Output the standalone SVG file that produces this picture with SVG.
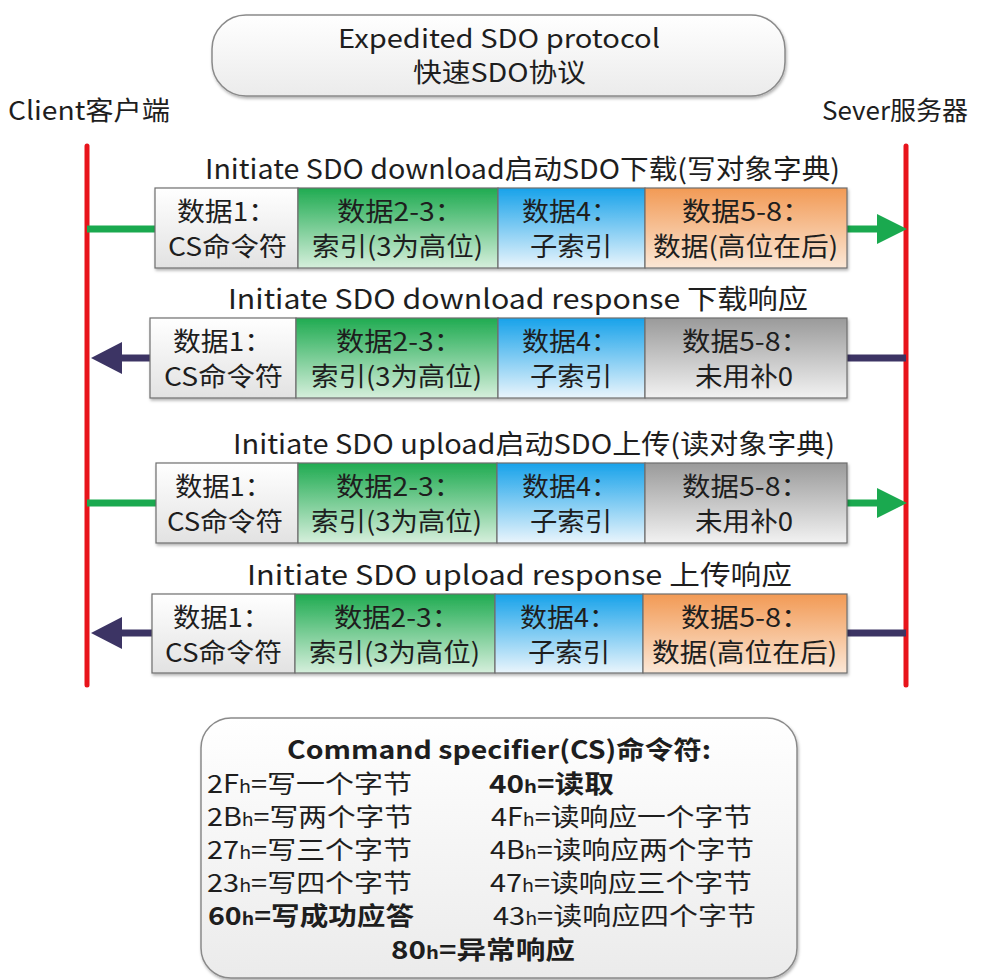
<svg xmlns="http://www.w3.org/2000/svg" width="982" height="980" viewBox="0 0 982 980">
<defs>
<style>
text{font-family:"Noto Sans CJK SC","Noto Sans",sans-serif;fill:#1e1e1e}
.t{font-size:26px}
.r{font-size:27px}
.c{font-size:26px}
.l{font-size:25px}
.b{font-weight:bold}
.h{font-size:17px}
.cell{stroke:#6e6e6e;stroke-width:1.2}
.life{stroke:#e8141b;stroke-width:5;stroke-linecap:round}
.g{stroke:#1aa94f;stroke-width:7;fill:none}
.p{stroke:#3c3464;stroke-width:7;fill:none}
</style>
<linearGradient id="gW" x1="0" y1="0" x2="0" y2="1"><stop offset="0" stop-color="#ffffff"/><stop offset="1" stop-color="#e2e2e2"/></linearGradient>
<linearGradient id="gG" x1="0" y1="0" x2="0" y2="1"><stop offset="0" stop-color="#1fab51"/><stop offset="1" stop-color="#d6efdc"/></linearGradient>
<linearGradient id="gB" x1="0" y1="0" x2="0" y2="1"><stop offset="0" stop-color="#17a2ea"/><stop offset="1" stop-color="#eaf5fc"/></linearGradient>
<linearGradient id="gO" x1="0" y1="0" x2="0" y2="1"><stop offset="0" stop-color="#f29a55"/><stop offset="1" stop-color="#fbe7d6"/></linearGradient>
<linearGradient id="gY" x1="0" y1="0" x2="0" y2="1"><stop offset="0" stop-color="#9a9a9a"/><stop offset="1" stop-color="#f2f2f2"/></linearGradient>
<linearGradient id="gT" x1="0" y1="0" x2="0" y2="1"><stop offset="0" stop-color="#ffffff"/><stop offset="1" stop-color="#ebebeb"/></linearGradient>
<filter id="sh" x="-5%" y="-10%" width="110%" height="130%"><feDropShadow dx="1" dy="2" stdDeviation="1.5" flood-color="#000" flood-opacity="0.3"/></filter>
</defs>
<rect width="982" height="980" fill="#fff"/>

<g id="title">
<rect x="212" y="15" width="573" height="81" rx="34" fill="url(#gT)" stroke="#8a8a8a" stroke-width="1.5" filter="url(#sh)"/>
<text class="t" x="338" y="48" textLength="322" lengthAdjust="spacingAndGlyphs">Expedited SDO protocol</text>
<text class="t" x="413" y="82" textLength="173" lengthAdjust="spacingAndGlyphs">快速SDO协议</text>
</g>
<g id="client"><text class="t" x="8" y="120" textLength="162" lengthAdjust="spacingAndGlyphs">Client客户端</text>
<line class="life" x1="87" y1="146" x2="87" y2="685"/></g>
<g id="server"><text class="t" x="822" y="120" textLength="146" lengthAdjust="spacingAndGlyphs">Sever服务器</text>
<line class="life" x1="906" y1="146" x2="906" y2="685"/></g>

<g id="connectors">
<line class="g" x1="87" y1="229" x2="155" y2="229"/>
<line class="g" x1="847" y1="229" x2="880" y2="229"/>
<polygon points="877,214 907,229 877,244" fill="#1aa94f"/>
<line class="p" x1="847" y1="358" x2="906" y2="358"/>
<line class="p" x1="119" y1="358" x2="150" y2="358"/>
<polygon points="122,342 91,358 122,374" fill="#3c3464"/>
<line class="g" x1="87" y1="503" x2="156" y2="503"/>
<line class="g" x1="847" y1="503" x2="880" y2="503"/>
<polygon points="877,488 907,503 877,518" fill="#1aa94f"/>
<line class="p" x1="847" y1="633" x2="906" y2="633"/>
<line class="p" x1="119" y1="633" x2="152" y2="633"/>
<polygon points="122,617 91,633 122,649" fill="#3c3464"/>
</g>

<g id="row1">
<text class="r" x="205" y="179" textLength="635" lengthAdjust="spacingAndGlyphs">Initiate SDO download启动SDO下载(写对象字典)</text>
<g filter="url(#sh)">
<rect class="cell" x="155" y="188" width="143" height="80" fill="url(#gW)"/>
<rect class="cell" x="298" y="188" width="200" height="80" fill="url(#gG)"/>
<rect class="cell" x="498" y="188" width="147" height="80" fill="url(#gB)"/>
<rect class="cell" x="645" y="188" width="202" height="80" fill="url(#gO)"/>
</g>
<text class="c" x="177" y="221" textLength="99" lengthAdjust="spacingAndGlyphs">数据1：</text>
<text class="c" x="168" y="256" textLength="119" lengthAdjust="spacingAndGlyphs">CS命令符</text>
<text class="c" x="337" y="221" textLength="126" lengthAdjust="spacingAndGlyphs">数据2-3：</text>
<text class="c" x="312" y="256" textLength="171" lengthAdjust="spacingAndGlyphs">索引(3为高位)</text>
<text class="c" x="522" y="221" textLength="96" lengthAdjust="spacingAndGlyphs">数据4：</text>
<text class="c" x="530" y="256" textLength="82" lengthAdjust="spacingAndGlyphs">子索引</text>
<text class="c" x="682" y="221" textLength="129" lengthAdjust="spacingAndGlyphs">数据5-8：</text>
<text class="c" x="653" y="256" textLength="185" lengthAdjust="spacingAndGlyphs">数据(高位在后)</text>
</g>

<g id="row2">
<text class="r" x="228" y="309" textLength="580" lengthAdjust="spacingAndGlyphs">Initiate SDO download response 下载响应</text>
<g filter="url(#sh)">
<rect class="cell" x="150" y="318" width="146" height="80" fill="url(#gW)"/>
<rect class="cell" x="296" y="318" width="202" height="80" fill="url(#gG)"/>
<rect class="cell" x="498" y="318" width="147" height="80" fill="url(#gB)"/>
<rect class="cell" x="645" y="318" width="202" height="80" fill="url(#gY)"/>
</g>
<text class="c" x="173" y="351" textLength="99" lengthAdjust="spacingAndGlyphs">数据1：</text>
<text class="c" x="164" y="386" textLength="119" lengthAdjust="spacingAndGlyphs">CS命令符</text>
<text class="c" x="336" y="351" textLength="126" lengthAdjust="spacingAndGlyphs">数据2-3：</text>
<text class="c" x="311" y="386" textLength="171" lengthAdjust="spacingAndGlyphs">索引(3为高位)</text>
<text class="c" x="522" y="351" textLength="96" lengthAdjust="spacingAndGlyphs">数据4：</text>
<text class="c" x="530" y="386" textLength="82" lengthAdjust="spacingAndGlyphs">子索引</text>
<text class="c" x="682" y="351" textLength="127" lengthAdjust="spacingAndGlyphs">数据5-8：</text>
<text class="c" x="695" y="386" textLength="98" lengthAdjust="spacingAndGlyphs">未用补0</text>
</g>

<g id="row3">
<text class="r" x="233" y="454" textLength="602" lengthAdjust="spacingAndGlyphs">Initiate SDO upload启动SDO上传(读对象字典)</text>
<g filter="url(#sh)">
<rect class="cell" x="156" y="463" width="142" height="80" fill="url(#gW)"/>
<rect class="cell" x="298" y="463" width="199" height="80" fill="url(#gG)"/>
<rect class="cell" x="497" y="463" width="148" height="80" fill="url(#gB)"/>
<rect class="cell" x="645" y="463" width="202" height="80" fill="url(#gY)"/>
</g>
<text class="c" x="175" y="496" textLength="97" lengthAdjust="spacingAndGlyphs">数据1：</text>
<text class="c" x="167" y="531" textLength="116" lengthAdjust="spacingAndGlyphs">CS命令符</text>
<text class="c" x="336" y="496" textLength="126" lengthAdjust="spacingAndGlyphs">数据2-3：</text>
<text class="c" x="311" y="531" textLength="171" lengthAdjust="spacingAndGlyphs">索引(3为高位)</text>
<text class="c" x="522" y="496" textLength="96" lengthAdjust="spacingAndGlyphs">数据4：</text>
<text class="c" x="530" y="531" textLength="82" lengthAdjust="spacingAndGlyphs">子索引</text>
<text class="c" x="682" y="496" textLength="127" lengthAdjust="spacingAndGlyphs">数据5-8：</text>
<text class="c" x="695" y="531" textLength="98" lengthAdjust="spacingAndGlyphs">未用补0</text>
</g>

<g id="row4">
<text class="r" x="247" y="585" textLength="545" lengthAdjust="spacingAndGlyphs">Initiate SDO upload response 上传响应</text>
<g filter="url(#sh)">
<rect class="cell" x="152" y="594" width="143" height="79" fill="url(#gW)"/>
<rect class="cell" x="295" y="594" width="200" height="79" fill="url(#gG)"/>
<rect class="cell" x="495" y="594" width="148" height="79" fill="url(#gB)"/>
<rect class="cell" x="643" y="594" width="204" height="79" fill="url(#gO)"/>
</g>
<text class="c" x="173" y="627" textLength="97" lengthAdjust="spacingAndGlyphs">数据1：</text>
<text class="c" x="165" y="662" textLength="117" lengthAdjust="spacingAndGlyphs">CS命令符</text>
<text class="c" x="334" y="627" textLength="126" lengthAdjust="spacingAndGlyphs">数据2-3：</text>
<text class="c" x="309" y="662" textLength="171" lengthAdjust="spacingAndGlyphs">索引(3为高位)</text>
<text class="c" x="520" y="627" textLength="96" lengthAdjust="spacingAndGlyphs">数据4：</text>
<text class="c" x="528" y="662" textLength="82" lengthAdjust="spacingAndGlyphs">子索引</text>
<text class="c" x="681" y="627" textLength="129" lengthAdjust="spacingAndGlyphs">数据5-8：</text>
<text class="c" x="652" y="662" textLength="185" lengthAdjust="spacingAndGlyphs">数据(高位在后)</text>
</g>

<g id="legend">
<rect x="201" y="718" width="596" height="260" rx="30" fill="url(#gT)" stroke="#8a8a8a" stroke-width="1.5" filter="url(#sh)"/>
<text class="l b" x="287" y="759" textLength="424" lengthAdjust="spacingAndGlyphs">Command specifier(CS)命令符:</text>
<text class="l" x="207" y="793" textLength="205" lengthAdjust="spacingAndGlyphs">2F<tspan class="h">h</tspan>=写一个字节</text>
<text class="l" x="207" y="826" textLength="206" lengthAdjust="spacingAndGlyphs">2B<tspan class="h">h</tspan>=写两个字节</text>
<text class="l" x="207" y="859" textLength="205" lengthAdjust="spacingAndGlyphs">27<tspan class="h">h</tspan>=写三个字节</text>
<text class="l" x="207" y="892" textLength="205" lengthAdjust="spacingAndGlyphs">23<tspan class="h">h</tspan>=写四个字节</text>
<text class="l b" x="208" y="925" textLength="206" lengthAdjust="spacingAndGlyphs">60<tspan class="h">h</tspan>=写成功应答</text>
<text class="l b" x="489" y="793" textLength="125" lengthAdjust="spacingAndGlyphs">40<tspan class="h">h</tspan>=读取</text>
<text class="l" x="491" y="826" textLength="261" lengthAdjust="spacingAndGlyphs">4F<tspan class="h">h</tspan>=读响应一个字节</text>
<text class="l" x="490" y="859" textLength="264" lengthAdjust="spacingAndGlyphs">4B<tspan class="h">h</tspan>=读响应两个字节</text>
<text class="l" x="490" y="892" textLength="262" lengthAdjust="spacingAndGlyphs">47<tspan class="h">h</tspan>=读响应三个字节</text>
<text class="l" x="493" y="925" textLength="263" lengthAdjust="spacingAndGlyphs">43<tspan class="h">h</tspan>=读响应四个字节</text>
<text class="l b" x="391" y="959" textLength="184" lengthAdjust="spacingAndGlyphs">80<tspan class="h">h</tspan>=异常响应</text>
</g>
</svg>
